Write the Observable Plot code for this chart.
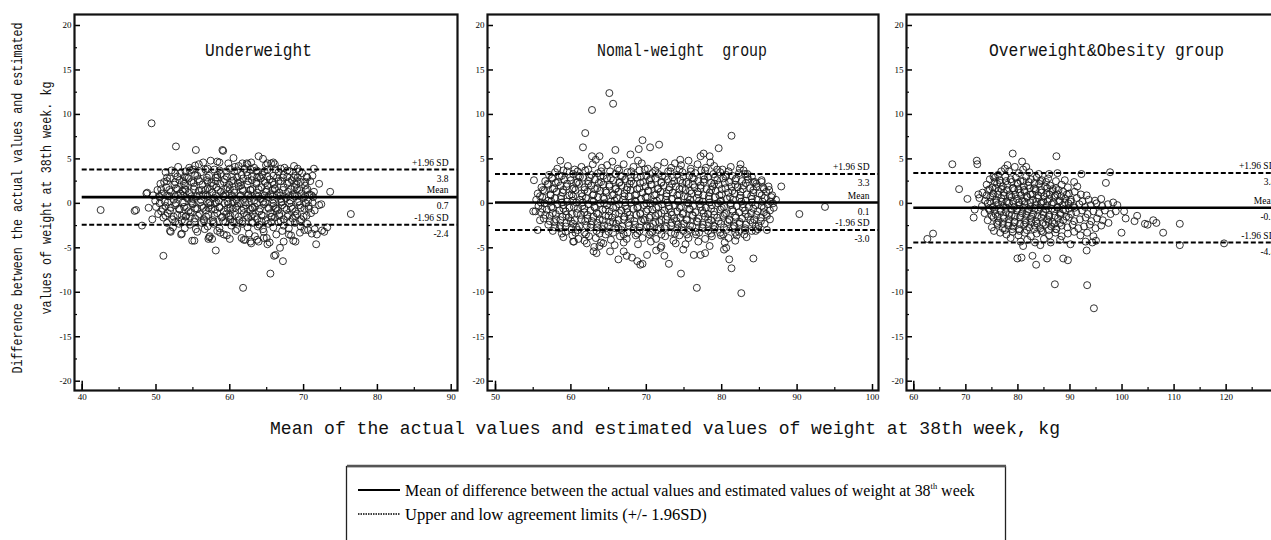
<!DOCTYPE html>
<html><head><meta charset="utf-8">
<script src="https://cdn.jsdelivr.net/npm/d3@7"></script>
<script src="https://cdn.jsdelivr.net/npm/@observablehq/plot@0.6"></script>
<style>
body{margin:0;background:#fff;}
#wrap{position:relative;width:1271px;height:540px;overflow:hidden;background:#fff;}
#wrap svg{position:absolute;top:0;}
</style></head><body><div id="wrap"></div>
<script>
// ---------- data ----------
const panelTitles = ["Underweight", "Nomal-weight  group", "Overweight&Obesity group"];
const yLabelLines = ["Difference between the actual values and estimated", "values of weight at 38th week. kg"];
const xTitle = "Mean of the actual values and estimated values of weight at 38th week, kg";
const legendLabels = ["Mean of difference between the actual values and estimated values of weight at 38", "th", " week", "Upper and low agreement limits (+/- 1.96SD)"];
const statNames = ["+1.96 SD", "Mean", "-1.96 SD"];

const xDomain1 = [40, 90], xDomain2 = [50, 100], xDomain3 = [60, 130];
const xMajor1 = [40, 50, 60, 70, 80, 90], xMinor1 = [45, 55, 65, 75, 85];
const xMajor2 = [50, 60, 70, 80, 90, 100], xMinor2 = [55, 65, 75, 85, 95];
const xMajor3 = [60, 70, 80, 90, 100, 110, 120, 130], xMinor3 = [65, 75, 85, 95, 105, 115, 125];
const yDomain = [-20, 20];
const yMajor = [-20, -15, -10, -5, 0, 5, 10, 15, 20];
const yMinor = [-17.5, -12.5, -7.5, -2.5, 2.5, 7.5, 12.5, 17.5];

const meanDiff = [0.7, 0.1, -0.5];
const upperLoA = [3.8, 3.3, 3.4];
const lowerLoA = [-2.4, -3.0, -4.4];

const underweightPts = [
[49.4,9.0],[52.7,6.4],[55.4,6.0],[59.0,6.0],[59.1,5.9],[42.5,-0.75],[47.1,-0.85],[47.3,-0.75],[48.1,-2.5],[49.0,-0.5],[48.7,1.1],[48.8,1.2],
[51.0,-5.9],[54.9,-4.2],[58.1,-5.3],[61.8,-9.5],[65.5,-7.9],[67.2,-6.5],[66.0,-5.9],[66.2,-5.8],[66.8,-5.0],[67.3,-4.3],[71.7,-4.6],[73.6,1.3],
[76.4,-1.2],[72.5,-3.05],[71.5,-2.9],[73.2,-2.7],[72.1,-0.2],[72.4,-0.1],[72.1,2.2],[71.4,3.9],[71.2,3.1],[68.7,4.2],[63.9,5.3],[64.5,5.0],
[65.9,4.6],[60.5,5.1],[57.4,4.8],[58.3,4.7],[58.6,4.6],[54.5,4.0],[55.3,4.25],[51.9,-3.1],[53.4,-3.5],[49.5,-1.8],[52.0,-3.2],[57.1,-4.0],
[57.3,-3.7],[59.2,-3.5],[61.9,-4.1],[62.8,-4.3],[63.7,-4.1],[64.6,-3.9],[65.1,-4.6],[68.0,-3.5],[68.6,-4.2],[70.1,-3.0],[71.1,-3.4],[71.8,-3.5],
[72.8,-3.2],[61.7,4.5],[62.3,4.5],[65.1,4.5],[51.3,3.5],[53.3,3.4],
[53.0,4.1],[55.8,4.4],[57.0,3.9],[59.8,4.5],[61.2,4.2],[62.4,4.4],[63.3,4.0],[64.9,4.3],[66.1,4.4],[67.4,4.0],[69.2,3.9],[56.4,4.6],[60.7,4.1],[62.9,4.6],[65.6,4.5],
[52.6,3.4],[53.9,3.0],[54.6,3.7],[55.3,3.2],[56.1,3.5],[57.2,3.1],[57.9,3.8],[58.8,3.3],[59.5,3.6],[60.3,3.0],[61.0,3.7],[61.6,3.2],[62.3,3.5],[63.0,3.0],
[63.8,3.6],[64.4,3.2],[65.1,3.8],[65.9,3.1],[66.6,3.5],[67.3,3.2],[68.1,3.6],[68.9,3.1],[69.8,3.4],[70.5,2.9],[58.3,3.2],[60.0,3.9],[62.8,3.8],[64.0,3.0],[66.9,3.9],[55.0,3.8],
[50.6,2.2],[51.1,2.4],[51.9,2.8],[52.5,2.1],[53.2,2.6],[53.8,2.2],[54.4,2.8],[55.1,2.3],[55.7,2.7],[56.3,2.1],[56.9,2.6],[57.5,2.3],[58.1,2.9],[58.7,2.2],
[59.3,2.7],[59.9,2.1],[60.5,2.6],[61.1,2.3],[61.8,2.8],[62.4,2.1],[63.0,2.6],[63.6,2.2],[64.2,2.8],[64.8,2.3],[65.4,2.7],[66.0,2.1],[66.6,2.5],[67.2,2.9],
[67.8,2.2],[68.4,2.6],[69.0,2.1],[69.6,2.4],[70.2,2.0],[70.9,2.5],[54.0,2.0],[57.7,2.0],[61.5,2.0],[65.1,2.0],[68.7,2.9],
[49.6,0.9],[50.2,1.5],[50.8,1.1],[51.4,1.8],[52.0,1.3],[52.7,1.7],[53.3,1.1],[53.9,1.6],[54.5,1.2],[55.2,1.9],[55.8,1.4],[56.4,1.0],[57.0,1.7],[57.6,1.2],
[58.2,1.8],[58.8,1.3],[59.4,1.0],[60.0,1.6],[60.6,1.2],[61.2,1.9],[61.8,1.4],[62.5,1.0],[63.1,1.6],[63.7,1.2],[64.3,1.8],[64.9,1.3],[65.5,1.0],[66.1,1.7],
[66.7,1.2],[67.3,1.8],[67.9,1.3],[68.5,1.0],[69.1,1.6],[69.7,1.1],[70.3,1.5],[70.8,1.0],[71.4,1.3],[56.7,1.5],[59.7,1.8],[62.8,1.5],[65.8,1.5],[68.8,1.8],[53.6,1.4],
[49.9,0.3],[50.5,0.7],[51.2,0.2],[51.8,0.8],[52.4,0.4],[53.0,0.9],[53.6,0.1],[54.2,0.6],[54.8,0.2],[55.5,0.8],[56.1,0.4],[56.7,0.9],[57.3,0.1],[57.9,0.6],
[58.5,0.3],[59.1,0.8],[59.7,0.2],[60.3,0.7],[60.9,0.4],[61.5,0.9],[62.1,0.1],[62.7,0.6],[63.3,0.3],[63.9,0.8],[64.5,0.2],[65.2,0.7],[65.8,0.4],[66.4,0.9],
[67.0,0.2],[67.6,0.6],[68.2,0.3],[68.8,0.8],[69.4,0.2],[70.0,0.6],[70.6,0.3],[71.3,0.7],[58.0,0.0],[61.1,0.0],[64.2,0.5],[66.9,0.5],[55.0,0.5],
[50.0,-0.4],[50.7,-0.9],[51.3,-0.3],[51.9,-0.8],[52.6,-0.2],[53.2,-0.7],[53.8,-0.4],[54.4,-0.9],[55.0,-0.1],[55.6,-0.6],[56.2,-0.3],[56.8,-0.8],[57.4,-0.2],
[58.0,-0.7],[58.6,-0.4],[59.2,-0.9],[59.8,-0.1],[60.4,-0.6],[61.0,-0.3],[61.6,-0.8],[62.2,-0.2],[62.8,-0.7],[63.4,-0.4],[64.0,-0.9],[64.6,-0.1],[65.3,-0.6],
[65.9,-0.3],[66.5,-0.8],[67.1,-0.2],[67.7,-0.7],[68.3,-0.4],[68.9,-0.9],[69.5,-0.2],[70.1,-0.6],[70.7,-0.3],[71.5,-0.8],[57.1,-0.5],[60.1,-0.5],[63.1,-0.5],[66.2,-0.5],
[50.3,-1.2],[51.0,-1.6],[51.6,-1.1],[52.2,-1.8],[52.9,-1.3],[53.5,-1.9],[54.1,-1.4],[54.7,-1.0],[55.3,-1.7],[55.9,-1.2],[56.5,-1.8],[57.1,-1.3],[57.7,-1.9],
[58.3,-1.1],[58.9,-1.6],[59.5,-1.2],[60.1,-1.8],[60.7,-1.3],[61.3,-1.9],[61.9,-1.1],[62.5,-1.6],[63.1,-1.2],[63.7,-1.8],[64.3,-1.3],[64.9,-1.9],[65.5,-1.1],
[66.1,-1.6],[66.7,-1.2],[67.3,-1.8],[67.9,-1.3],[68.5,-1.7],[69.1,-1.2],[69.7,-1.8],[70.4,-1.4],[71.0,-1.1],[54.0,-1.5],[59.9,-1.5],[62.9,-1.5],[65.7,-1.5],
[51.5,-2.2],[52.3,-2.7],[53.1,-2.3],[53.9,-2.8],[54.6,-2.4],[55.4,-2.9],[56.2,-2.2],[57.0,-2.6],[57.8,-2.3],[58.6,-2.8],[59.4,-2.1],[60.2,-2.5],[61.0,-2.9],
[61.7,-2.3],[62.4,-2.7],[63.1,-2.2],[63.8,-2.6],[64.5,-2.9],[65.2,-2.3],[65.9,-2.7],[66.6,-2.1],[67.3,-2.5],[68.0,-2.8],[68.8,-2.2],[69.6,-2.6],[70.5,-2.3],
[56.6,-2.9],[60.6,-2.2],[64.0,-2.4],
[53.5,-3.4],[55.6,-3.2],[57.2,-3.8],[57.6,-4.0],[58.7,-3.3],[59.6,-3.6],[60.8,-3.1],[61.6,-3.9],[62.1,-4.1],[62.6,-3.4],[63.4,-3.7],[63.9,-4.3],[64.6,-3.2],
[65.0,-3.9],[65.4,-4.4],[66.3,-3.5],[67.1,-3.1],[68.3,-3.6],[68.9,-4.3],[69.5,-3.3],[70.6,-3.0],[58.3,-3.1],[60.0,-4.0],[62.9,-4.5],[55.2,-4.2]
];
const underweightPtsB = [
[52.1,3.7],[54.0,3.6],[56.7,3.8],[58.6,3.7],[60.6,3.6],[62.0,3.9],[63.6,3.7],[64.7,3.6],[66.2,3.8],[67.8,3.7],[69.4,3.6],
[51.5,2.9],[52.9,3.0],[54.2,2.9],[55.6,3.1],[56.9,2.9],[58.3,2.9],[59.6,3.0],[61.0,2.9],[62.4,3.1],[63.7,2.9],[65.1,3.0],[66.4,2.9],[67.8,3.0],[69.2,2.9],[70.4,3.0],
[51.5,2.5],[52.6,2.4],[53.7,2.5],[54.8,2.4],[55.9,2.5],[57.0,2.4],[58.1,2.5],[59.2,2.4],[60.3,2.5],[61.4,2.4],[62.5,2.5],[63.6,2.4],[64.7,2.5],[65.8,2.4],[66.9,2.5],[68.0,2.4],[69.1,2.5],[70.2,2.4],
[50.7,1.6],[51.8,1.5],[52.9,1.6],[54.0,1.5],[55.1,1.6],[56.2,1.5],[57.3,1.6],[58.4,1.5],[59.5,1.6],[60.6,1.5],[61.7,1.6],[62.8,1.5],[63.9,1.6],[65.0,1.5],[66.1,1.6],[67.2,1.5],[68.3,1.6],[69.4,1.5],[70.5,1.6],
[50.4,0.8],[51.5,0.9],[52.6,0.8],[53.7,0.9],[54.8,0.8],[55.9,0.9],[57.0,0.8],[58.1,0.9],[59.2,0.8],[60.3,0.9],[61.4,0.8],[62.5,0.9],[63.6,0.8],[64.7,0.9],[65.8,0.8],[66.9,0.9],[68.0,0.8],[69.1,0.9],[70.2,0.8],[71.1,0.9],
[50.5,0.0],[51.6,0.1],[52.7,0.0],[53.8,0.1],[54.9,0.0],[56.0,0.1],[57.1,0.0],[58.2,0.1],[59.3,0.0],[60.4,0.1],[61.5,0.0],[62.6,0.1],[63.7,0.0],[64.8,0.1],[65.9,0.0],[67.0,0.1],[68.1,0.0],[69.2,0.1],[70.3,0.0],[71.2,0.1],
[50.9,-0.6],[52.0,-0.5],[53.1,-0.6],[54.2,-0.5],[55.3,-0.6],[56.4,-0.5],[57.5,-0.6],[58.6,-0.5],[59.7,-0.6],[60.8,-0.5],[61.9,-0.6],[63.0,-0.5],[64.1,-0.6],[65.2,-0.5],[66.3,-0.6],[67.4,-0.5],[68.5,-0.6],[69.6,-0.5],[70.7,-0.6],
[51.3,-1.4],[52.4,-1.5],[53.5,-1.4],[54.6,-1.5],[55.7,-1.4],[56.8,-1.5],[57.9,-1.4],[59.0,-1.5],[60.1,-1.4],[61.2,-1.5],[62.3,-1.4],[63.4,-1.5],[64.5,-1.4],[65.6,-1.5],[66.7,-1.4],[67.8,-1.5],[68.9,-1.4],[70.0,-1.5],
[52.6,-2.1],[53.9,-2.0],[55.2,-2.1],[56.5,-2.0],[57.8,-2.1],[59.1,-2.0],[60.4,-2.1],[61.7,-2.0],[63.0,-2.1],[64.3,-2.0],[65.6,-2.1],[66.9,-2.0],[68.2,-2.1],[69.5,-2.0]
];

const normalPts = [
[65.1,12.4],[65.6,11.2],[62.8,10.5],[61.9,7.9],[61.6,6.3],[58.6,4.8],[62.8,5.3],[63.8,5.3],[65.9,6.0],[69.5,7.1],[70.5,6.3],[71.7,6.6],[67.9,5.5],[69.0,6.1],
[79.6,6.2],[81.3,7.6],[82.5,4.4],[77.2,5.3],[78.4,5.3],[77.6,5.6],[74.5,4.9],[75.6,4.8],[87.9,1.9],[90.3,-1.2],[93.7,-0.4],[55.1,2.6],[55.0,-0.9],[55.3,-0.9],
[55.6,-3.0],[55.9,-1.9],[60.3,-4.3],[61.8,-4.2],[63.0,-5.4],[63.4,-5.6],[63.8,-4.8],[64.3,-4.5],[65.2,-5.4],[66.3,-6.3],[67.0,-5.4],[67.4,-5.9],[68.1,-6.1],
[68.8,-6.5],[69.2,-6.9],[69.5,-6.8],[70.1,-5.8],[71.3,-5.3],[71.9,-5.0],[72.4,-5.9],[73.0,-6.8],[74.6,-7.9],[76.7,-9.5],[74.9,-5.2],[76.3,-5.8],[77.2,-5.8],
[77.8,-5.6],[80.3,-5.2],[80.6,-5.0],[81.0,-6.3],[81.3,-7.3],[82.6,-10.1],[84.2,-6.2],[81.8,-4.2],[86.4,-1.8],[86.0,-3.0],[84.5,-3.1],[83.0,-3.5],[85.3,2.4],
[86.2,1.9],[84.2,2.4],[83.4,3.3],
[58.2,3.9],[59.6,4.2],[60.5,3.8],[61.4,4.1],[62.9,4.4],[64.1,4.0],[64.8,4.3],[66.2,3.9],[67.0,4.4],[68.3,4.1],[69.4,4.5],[70.2,3.9],[71.5,4.2],[72.4,4.6],
[73.3,4.0],[74.6,4.3],[75.9,3.9],[76.8,4.4],[77.9,4.0],[79.0,4.2],[80.1,3.8],[81.2,4.1],[82.4,3.9],[65.5,4.7],[68.9,4.8],[73.8,4.5],[78.5,4.6],[63.3,4.9],
[57.1,3.2],[57.9,3.5],[58.8,3.1],[59.5,3.6],[60.3,3.3],[61.2,3.0],[61.9,3.7],[62.7,3.2],[63.6,3.4],[64.3,3.1],[65.2,3.6],[65.9,3.3],[66.8,3.0],[67.5,3.5],
[68.4,3.2],[69.1,3.7],[70.0,3.1],[70.8,3.4],[71.6,3.3],[72.5,3.0],[73.2,3.6],[74.1,3.2],[74.8,3.5],[75.7,3.1],[76.5,3.4],[77.3,3.7],[78.2,3.0],[78.9,3.3],
[79.8,3.5],[80.6,3.2],[81.4,3.1],[82.3,3.4],[83.1,3.3],[84.0,3.0],
[56.6,2.5],[57.5,2.8],[58.3,2.4],[59.1,2.7],[60.0,2.6],[60.7,2.3],[61.6,2.9],[62.3,2.5],[63.2,2.7],[64.0,2.4],[64.8,2.8],[65.6,2.6],[66.4,2.3],[67.2,2.7],
[68.0,2.5],[68.8,2.9],[69.6,2.4],[70.4,2.6],[71.2,2.8],[72.0,2.3],[72.9,2.7],[73.7,2.5],[74.5,2.6],[75.3,2.4],[76.1,2.9],[76.9,2.5],[77.7,2.7],[78.6,2.3],
[79.4,2.6],[80.2,2.8],[81.0,2.4],[81.8,2.6],[82.7,2.5],[83.5,2.7],[84.4,2.4],[85.3,2.6],
[56.1,1.8],[57.0,2.1],[57.8,1.7],[58.6,2.0],[59.4,1.9],[60.2,1.6],[61.1,2.2],[61.8,1.8],[62.7,2.0],[63.5,1.7],[64.3,2.1],[65.1,1.9],[65.9,1.6],[66.7,2.0],
[67.5,1.8],[68.3,2.2],[69.1,1.7],[69.9,1.9],[70.7,2.1],[71.5,1.6],[72.3,2.0],[73.1,1.8],[73.9,1.9],[74.8,1.7],[75.6,2.2],[76.4,1.8],[77.2,2.0],[78.0,1.6],
[78.8,1.9],[79.6,2.1],[80.5,1.7],[81.3,1.9],[82.1,1.8],[82.9,2.0],[83.8,1.7],[84.6,1.9],[85.5,1.8],[86.3,1.5],
[55.6,1.1],[56.5,1.4],[57.3,1.0],[58.1,1.3],[58.9,1.2],[59.8,0.9],[60.6,1.5],[61.4,1.1],[62.2,1.3],[63.0,1.0],[63.9,1.4],[64.7,1.2],[65.5,0.9],[66.3,1.3],
[67.1,1.1],[67.9,1.5],[68.7,1.0],[69.5,1.2],[70.3,1.4],[71.1,0.9],[71.9,1.3],[72.7,1.1],[73.5,1.2],[74.4,1.0],[75.2,1.5],[76.0,1.1],[76.8,1.3],[77.6,0.9],
[78.4,1.2],[79.2,1.4],[80.0,1.0],[80.9,1.2],[81.7,1.1],[82.5,1.3],[83.3,1.0],[84.2,1.2],[85.0,1.1],[85.9,1.3],[86.7,0.9],
[55.4,0.4],[56.2,0.7],[57.0,0.3],[57.9,0.6],[58.7,0.5],[59.5,0.2],[60.3,0.8],[61.2,0.4],[62.0,0.6],[62.8,0.3],[63.6,0.7],[64.4,0.5],[65.3,0.2],[66.1,0.6],
[66.9,0.4],[67.7,0.8],[68.5,0.3],[69.3,0.5],[70.1,0.7],[71.0,0.2],[71.8,0.6],[72.6,0.4],[73.4,0.5],[74.2,0.3],[75.0,0.8],[75.8,0.4],[76.7,0.6],[77.5,0.2],
[78.3,0.5],[79.1,0.7],[79.9,0.3],[80.7,0.5],[81.5,0.4],[82.4,0.6],[83.2,0.3],[84.0,0.5],[84.8,0.4],[85.7,0.6],[86.5,0.2],[87.2,0.4],
[55.7,-0.3],[56.5,0.0],[57.4,-0.4],[58.2,-0.1],[59.0,-0.2],[59.8,-0.5],[60.7,0.1],[61.5,-0.3],[62.3,-0.1],[63.1,-0.4],[63.9,0.0],[64.8,-0.2],[65.6,-0.5],
[66.4,-0.1],[67.2,-0.3],[68.0,0.1],[68.9,-0.4],[69.7,-0.2],[70.5,0.0],[71.3,-0.5],[72.1,-0.1],[73.0,-0.3],[73.8,-0.2],[74.6,-0.4],[75.4,0.1],[76.2,-0.3],
[77.1,-0.1],[77.9,-0.5],[78.7,-0.2],[79.5,0.0],[80.3,-0.4],[81.2,-0.2],[82.0,-0.3],[82.8,-0.1],[83.6,-0.4],[84.5,-0.2],[85.3,-0.3],[86.1,-0.1],[86.9,-0.5],
[56.0,-1.0],[56.8,-0.7],[57.6,-1.1],[58.5,-0.8],[59.3,-0.9],[60.1,-1.2],[60.9,-0.6],[61.8,-1.0],[62.6,-0.8],[63.4,-1.1],[64.2,-0.7],[65.1,-0.9],[65.9,-1.2],
[66.7,-0.8],[67.5,-1.0],[68.3,-0.6],[69.2,-1.1],[70.0,-0.9],[70.8,-0.7],[71.6,-1.2],[72.4,-0.8],[73.3,-1.0],[74.1,-0.9],[74.9,-1.1],[75.7,-0.6],[76.5,-1.0],
[77.4,-0.8],[78.2,-1.2],[79.0,-0.9],[79.8,-0.7],[80.6,-1.1],[81.5,-0.9],[82.3,-1.0],[83.1,-0.8],[83.9,-1.1],[84.8,-0.9],[85.6,-1.0],[86.4,-0.8],
[56.4,-1.7],[57.2,-1.4],[58.0,-1.8],[58.9,-1.5],[59.7,-1.6],[60.5,-1.9],[61.3,-1.3],[62.2,-1.7],[63.0,-1.5],[63.8,-1.8],[64.6,-1.4],[65.5,-1.6],[66.3,-1.9],
[67.1,-1.5],[67.9,-1.7],[68.7,-1.3],[69.6,-1.8],[70.4,-1.6],[71.2,-1.4],[72.0,-1.9],[72.8,-1.5],[73.7,-1.7],[74.5,-1.6],[75.3,-1.8],[76.1,-1.3],[76.9,-1.7],
[77.8,-1.5],[78.6,-1.9],[79.4,-1.6],[80.2,-1.4],[81.0,-1.8],[81.9,-1.6],[82.7,-1.7],[83.5,-1.5],[84.3,-1.8],[85.2,-1.6],[86.0,-1.4],
[57.0,-2.4],[57.8,-2.1],[58.6,-2.5],[59.4,-2.2],[60.3,-2.3],[61.1,-2.6],[61.9,-2.0],[62.7,-2.4],[63.5,-2.2],[64.4,-2.5],[65.2,-2.1],[66.0,-2.3],[66.8,-2.6],
[67.6,-2.2],[68.5,-2.4],[69.3,-2.0],[70.1,-2.5],[70.9,-2.3],[71.7,-2.1],[72.6,-2.6],[73.4,-2.2],[74.2,-2.4],[75.0,-2.3],[75.8,-2.5],[76.7,-2.0],[77.5,-2.4],
[78.3,-2.2],[79.1,-2.6],[79.9,-2.3],[80.8,-2.1],[81.6,-2.5],[82.4,-2.3],[83.2,-2.4],[84.1,-2.2],[84.9,-2.5],[85.7,-2.3],
[57.6,-3.1],[58.5,-2.8],[59.3,-3.2],[60.1,-2.9],[60.9,-3.0],[61.8,-3.3],[62.6,-2.7],[63.4,-3.1],[64.2,-2.9],[65.0,-3.2],[65.9,-2.8],[66.7,-3.0],[67.5,-3.3],
[68.3,-2.9],[69.1,-3.1],[70.0,-2.7],[70.8,-3.2],[71.6,-3.0],[72.4,-2.8],[73.3,-3.3],[74.1,-2.9],[74.9,-3.1],[75.7,-3.0],[76.5,-3.2],[77.4,-2.7],[78.2,-3.1],
[79.0,-2.9],[79.8,-3.3],[80.6,-3.0],[81.5,-2.8],[82.3,-3.2],[83.1,-3.0],[84.0,-3.1],[84.8,-2.9],
[59.0,-3.8],[60.2,-3.6],[61.0,-4.0],[62.4,-3.7],[63.3,-3.9],[64.6,-3.5],[65.3,-4.1],[66.5,-3.7],[67.4,-4.0],[68.6,-3.6],[69.5,-3.9],[70.4,-3.5],[71.3,-4.0],
[72.5,-3.7],[73.6,-4.2],[74.4,-3.6],[75.6,-3.9],[76.6,-3.5],[77.8,-4.0],[78.7,-3.7],[79.9,-3.6],[80.9,-3.9],[82.0,-3.6],[83.3,-3.8],
[60.4,-4.3],[62.1,-4.5],[64.0,-4.4],[65.8,-4.7],[67.0,-4.4],[68.9,-4.6],[70.6,-4.3],[72.0,-4.8],[73.9,-4.5],[75.2,-4.6],[76.9,-4.3],[78.4,-4.8],[80.4,-4.4],[63.1,-4.9]
];
const normalPtsB = [
[59.0,3.7],[60.9,3.6],[62.3,3.8],[64.0,3.6],[66.4,3.7],[68.0,3.6],[69.8,3.8],[71.2,3.7],[72.9,3.6],[74.4,3.8],[75.9,3.6],[77.8,3.7],[79.4,3.8],[80.9,3.6],[82.9,3.7],
[57.5,2.9],[58.5,3.0],[59.9,2.9],[61.0,3.1],[62.5,2.9],[63.9,3.0],[65.3,2.8],[66.6,3.1],[67.9,2.9],[69.3,3.0],[70.6,2.8],[72.1,3.1],[73.5,2.9],[74.9,3.0],
[76.3,2.8],[77.6,3.1],[79.1,2.9],[80.5,3.0],[81.9,2.8],[83.4,3.0],
[56.9,2.2],[58.0,2.3],[59.5,2.2],[60.9,2.4],[62.3,2.2],[63.7,2.3],[65.1,2.1],[66.5,2.4],[67.8,2.2],[69.2,2.3],[70.6,2.1],[72.0,2.4],[73.4,2.2],[74.8,2.3],
[76.2,2.1],[77.6,2.4],[79.0,2.2],[80.4,2.3],[81.8,2.1],[83.2,2.3],[84.6,2.2],
[56.3,1.5],[57.6,1.6],[59.0,1.5],[60.4,1.7],[61.8,1.5],[63.2,1.6],[64.6,1.4],[66.0,1.7],[67.4,1.5],[68.8,1.6],[70.2,1.4],[71.6,1.7],[73.0,1.5],[74.4,1.6],
[75.8,1.4],[77.2,1.7],[78.6,1.5],[80.0,1.6],[81.4,1.4],[82.8,1.6],[84.2,1.5],[85.6,1.6],
[55.9,0.8],[57.3,0.9],[58.7,0.8],[60.1,1.0],[61.5,0.8],[62.9,0.9],[64.3,0.7],[65.7,1.0],[67.1,0.8],[68.5,0.9],[69.9,0.7],[71.3,1.0],[72.7,0.8],[74.1,0.9],
[75.5,0.7],[76.9,1.0],[78.3,0.8],[79.7,0.9],[81.1,0.7],[82.5,0.9],[83.9,0.8],[85.3,0.9],[86.6,0.7],
[56.0,0.1],[57.4,0.2],[58.8,0.1],[60.2,0.3],[61.6,0.1],[63.0,0.2],[64.4,0.0],[65.8,0.3],[67.2,0.1],[68.6,0.2],[70.0,0.0],[71.4,0.3],[72.8,0.1],[74.2,0.2],
[75.6,0.0],[77.0,0.3],[78.4,0.1],[79.8,0.2],[81.2,0.0],[82.6,0.2],[84.0,0.1],[85.4,0.2],[86.8,0.0],
[56.2,-0.6],[57.6,-0.5],[59.0,-0.6],[60.4,-0.4],[61.8,-0.6],[63.2,-0.5],[64.6,-0.7],[66.0,-0.4],[67.4,-0.6],[68.8,-0.5],[70.2,-0.7],[71.6,-0.4],[73.0,-0.6],
[74.4,-0.5],[75.8,-0.7],[77.2,-0.4],[78.6,-0.6],[80.0,-0.5],[81.4,-0.7],[82.8,-0.5],[84.2,-0.6],[85.6,-0.5],
[56.6,-1.3],[58.0,-1.2],[59.4,-1.3],[60.8,-1.1],[62.2,-1.3],[63.6,-1.2],[65.0,-1.4],[66.4,-1.1],[67.8,-1.3],[69.2,-1.2],[70.6,-1.4],[72.0,-1.1],[73.4,-1.3],
[74.8,-1.2],[76.2,-1.4],[77.6,-1.1],[79.0,-1.3],[80.4,-1.2],[81.8,-1.4],[83.2,-1.2],[84.6,-1.3],[85.9,-1.2],
[57.2,-2.0],[58.6,-1.9],[60.0,-2.0],[61.4,-1.8],[62.8,-2.0],[64.2,-1.9],[65.6,-2.1],[67.0,-1.8],[68.4,-2.0],[69.8,-1.9],[71.2,-2.1],[72.6,-1.8],[74.0,-2.0],
[75.4,-1.9],[76.8,-2.1],[78.2,-1.8],[79.6,-2.0],[81.0,-1.9],[82.4,-2.1],[83.8,-1.9],[85.2,-2.0],
[57.9,-2.7],[59.3,-2.6],[60.7,-2.7],[62.1,-2.5],[63.5,-2.7],[64.9,-2.6],[66.3,-2.8],[67.7,-2.5],[69.1,-2.7],[70.5,-2.6],[71.9,-2.8],[73.3,-2.5],[74.7,-2.7],
[76.1,-2.6],[77.5,-2.8],[78.9,-2.5],[80.3,-2.7],[81.7,-2.6],[83.1,-2.8],[84.5,-2.6],
[58.8,-3.4],[60.6,-3.3],[62.0,-3.5],[63.8,-3.4],[65.6,-3.3],[67.0,-3.5],[68.8,-3.4],[70.6,-3.3],[72.0,-3.5],[73.8,-3.4],[75.4,-3.5],[77.0,-3.3],[78.6,-3.4],
[80.2,-3.5],[81.8,-3.3]
];

const overweightPts = [
[62.6,-4.0],[63.7,-3.4],[67.4,4.4],[68.7,1.6],[70.3,0.5],[72.1,4.8],[72.2,4.4],[71.5,-1.6],[71.7,-0.7],[72.4,1.0],[75.4,-3.1],[79.0,5.6],[80.8,4.7],
[81.6,4.1],[87.4,5.3],[92.2,3.3],[96.9,2.3],[97.7,3.5],[79.9,-6.2],[80.7,-6.1],[82.8,-5.9],[83.5,-6.9],[85.6,-6.2],[88.7,-6.2],[89.6,-6.4],[87.1,-9.1],
[93.3,-9.2],[94.6,-11.8],[90.1,-4.6],[93.2,-5.3],[95.0,-4.2],[99.9,-3.3],[100.4,-0.9],[100.7,-1.7],[102.4,-2.0],[102.9,-1.4],[104.4,-2.3],[104.9,-2.4],
[106.0,-1.9],[106.6,-2.2],[107.9,-3.3],[111.1,-2.3],[111.1,-4.7],[119.6,-4.5],[99.1,-0.2],[98.3,0.1],
[76.2,3.2],[76.8,3.6],[77.5,3.9],[78.3,3.6],[78.0,4.3],[79.4,4.1],[80.2,3.4],[81.0,3.8],[82.2,3.5],[84.0,3.3],[86.0,3.3],[87.6,3.4],[75.3,3.0],
[74.6,2.7],[75.6,2.9],[76.5,2.6],[77.6,3.0],[78.6,2.7],[79.6,2.9],[80.5,2.5],[81.6,3.0],[82.5,2.7],[83.6,2.9],[84.6,2.6],[85.8,2.8],[87.3,2.5],[89.0,2.6],
[74.0,2.1],[75.1,1.8],[76.0,2.2],[77.1,1.9],[78.0,2.1],[79.1,1.7],[80.0,2.2],[81.1,1.9],[82.0,2.0],[83.1,1.7],[84.1,2.2],[85.2,1.9],[86.2,2.0],[87.3,1.7],
[88.4,2.1],[89.6,1.8],[90.8,2.4],[91.4,1.9],
[73.2,1.2],[74.3,1.5],[75.3,1.1],[76.3,1.4],[77.3,1.2],[78.4,1.0],[79.3,1.5],[80.4,1.2],[81.3,1.3],[82.4,1.0],[83.4,1.4],[84.5,1.2],[85.5,1.1],[86.6,1.4],
[87.6,1.0],[88.7,1.3],[89.8,1.1],[90.9,1.3],[92.1,1.0],[93.2,0.9],
[72.6,0.6],[73.7,0.3],[74.7,0.7],[75.8,0.4],[76.8,0.6],[77.8,0.2],[78.8,0.7],[79.8,0.5],[80.8,0.3],[81.8,0.7],[82.9,0.4],[83.9,0.6],[84.9,0.2],[86.0,0.5],
[87.0,0.7],[88.1,0.3],[89.1,0.5],[90.2,0.4],[91.3,0.6],[92.4,0.2],[93.6,0.4],[94.8,0.3],[96.0,0.5],
[73.1,-0.3],[74.2,0.0],[75.2,-0.4],[76.2,-0.1],[77.2,-0.3],[78.3,0.0],[79.3,-0.4],[80.3,-0.2],[81.3,-0.1],[82.4,-0.4],[83.4,-0.2],[84.4,0.0],[85.5,-0.3],
[86.5,-0.1],[87.6,-0.4],[88.6,-0.2],[89.7,0.0],[90.7,-0.3],[91.8,-0.1],[92.9,-0.4],[94.0,-0.2],[95.1,0.0],[96.2,-0.3],[97.3,-0.1],
[73.6,-1.1],[74.6,-0.8],[75.7,-1.2],[76.7,-0.9],[77.7,-1.0],[78.8,-1.3],[79.8,-0.8],[80.8,-1.1],[81.8,-0.9],[82.9,-1.2],[83.9,-0.8],[84.9,-1.0],[86.0,-1.3],
[87.0,-0.9],[88.1,-1.1],[89.1,-0.8],[90.2,-1.2],[91.2,-1.0],[92.3,-0.8],[93.4,-1.2],[94.5,-0.9],[95.6,-1.1],[96.7,-0.8],[97.8,-1.2],[98.8,-0.9],
[74.2,-1.9],[75.3,-1.6],[76.3,-2.0],[77.3,-1.7],[78.3,-1.8],[79.4,-2.1],[80.4,-1.6],[81.4,-1.9],[82.4,-1.7],[83.5,-2.0],[84.5,-1.6],[85.6,-1.8],[86.6,-2.1],
[87.7,-1.7],[88.7,-1.9],[89.8,-1.6],[90.8,-2.0],[91.9,-1.8],[93.0,-1.6],[94.1,-2.0],[95.2,-1.7],[96.3,-1.9],[97.4,-2.2],
[75.0,-2.7],[76.1,-2.4],[77.1,-2.8],[78.1,-2.5],[79.1,-2.6],[80.2,-2.9],[81.2,-2.4],[82.2,-2.7],[83.2,-2.5],[84.3,-2.8],[85.3,-2.4],[86.4,-2.6],[87.4,-2.9],
[88.4,-2.5],[89.5,-2.7],[90.5,-2.4],[91.6,-2.8],[92.7,-2.6],[93.8,-2.4],[94.9,-2.8],[96.0,-2.5],
[76.6,-3.3],[77.8,-3.5],[79.0,-3.2],[80.1,-3.6],[81.3,-3.3],[82.5,-3.7],[83.6,-3.4],[84.8,-3.2],[86.0,-3.6],[87.2,-3.3],[88.4,-3.7],[89.6,-3.4],[90.8,-3.2],
[92.0,-3.6],[93.3,-3.3],[94.5,-3.7],
[78.6,-3.9],[80.5,-4.3],[81.8,-4.1],[83.3,-4.4],[85.0,-4.0],[86.3,-4.4],[88.1,-4.1],[93.0,-4.3],[94.3,-4.4],[84.3,-4.7],[81.0,-4.8]
];
const overweightPtsB = [
[75.5,2.4],[76.6,2.3],[77.7,2.5],[78.8,2.4],[79.9,2.3],[81.0,2.5],[82.1,2.4],[83.2,2.3],[84.3,2.5],[85.4,2.4],
[74.6,1.6],[75.7,1.7],[76.8,1.6],[77.9,1.5],[79.0,1.7],[80.1,1.6],[81.2,1.5],[82.3,1.7],[83.4,1.6],[84.5,1.5],[85.6,1.7],[86.7,1.6],[87.8,1.5],
[74.0,0.9],[75.1,0.8],[76.2,1.0],[77.3,0.9],[78.4,0.8],[79.5,1.0],[80.6,0.9],[81.7,0.8],[82.8,1.0],[83.9,0.9],[85.0,0.8],[86.1,1.0],[87.2,0.9],[88.3,0.8],[89.4,1.0],
[74.7,0.2],[75.8,0.1],[76.9,0.2],[78.0,0.1],[79.1,0.2],[80.2,0.1],[81.3,0.2],[82.4,0.1],[83.5,0.2],[84.6,0.1],[85.7,0.2],[86.8,0.1],[87.9,0.2],[89.0,0.1],[90.1,0.2],
[74.4,-0.6],[75.5,-0.7],[76.6,-0.6],[77.7,-0.5],[78.8,-0.7],[79.9,-0.6],[81.0,-0.5],[82.1,-0.7],[83.2,-0.6],[84.3,-0.5],[85.4,-0.7],[86.5,-0.6],[87.6,-0.5],[88.7,-0.7],[89.8,-0.6],[90.9,-0.5],
[75.0,-1.4],[76.1,-1.5],[77.2,-1.4],[78.3,-1.3],[79.4,-1.5],[80.5,-1.4],[81.6,-1.3],[82.7,-1.5],[83.8,-1.4],[84.9,-1.3],[86.0,-1.5],[87.1,-1.4],[88.2,-1.3],[89.3,-1.5],
[76.0,-2.2],[77.1,-2.3],[78.2,-2.2],[79.3,-2.1],[80.4,-2.3],[81.5,-2.2],[82.6,-2.1],[83.7,-2.3],[84.8,-2.2],[85.9,-2.1],[87.0,-2.3],[88.1,-2.2],
[77.5,-3.0],[78.9,-2.9],[80.3,-3.1],[81.7,-3.0],[83.1,-2.9],[84.5,-3.1],[85.9,-3.0],[87.3,-2.9]
];

// ---------- layout ----------
const H = 410, MT = 14, MB = 20, ML = 34, MR = 8;
const panels = [
  {pts: underweightPts.concat(underweightPtsB), xDomain: xDomain1, xMajor: xMajor1, xMinor: xMinor1, left: 40, width: 425, insetL: 7.7, insetR: 6.3},
  {pts: normalPts.concat(normalPtsB), xDomain: xDomain2, xMajor: xMajor2, xMinor: xMinor2, left: 453, width: 433, insetL: 8, insetR: 6},
  {pts: overweightPts.concat(overweightPtsB), xDomain: xDomain3, xMajor: xMajor3, xMinor: xMinor3, left: 872, width: 420, insetL: 7.3, insetR: 6.3}
];
const wrap = document.getElementById("wrap");

panels.forEach((p, i) => {
  const fw = p.width - ML - MR, fh = H - MT - MB;
  const mean = meanDiff[i], up = upperLoA[i], lo = lowerLoA[i];
  const above = [{y: up, t: statNames[0]}, {y: mean, t: statNames[1]}, {y: lo, t: statNames[2]}];
  const below = [{y: up, t: up.toFixed(1)}, {y: mean, t: mean.toFixed(1)}, {y: lo, t: lo.toFixed(1)}];
  const svg = Plot.plot({
    width: p.width, height: H, marginTop: MT, marginBottom: MB, marginLeft: ML, marginRight: MR,
    x: {domain: p.xDomain, insetLeft: p.insetL, insetRight: p.insetR, axis: null},
    y: {domain: yDomain, insetTop: 11, insetBottom: 9.3, axis: null},
    style: {background: "transparent", fontFamily: "'Liberation Serif', serif", color: "#000"},
    marks: [
      Plot.dot(p.pts, {x: d => d[0], y: d => d[1], r: 3.5, stroke: "#1c1c1c", strokeWidth: 0.9, fill: "none"}),
      Plot.ruleY([mean], {stroke: "#000", strokeWidth: 2.6, insetLeft: p.insetL}),
      Plot.ruleY([up, lo], {stroke: "#000", strokeWidth: 2, strokeDasharray: "5,2.5", insetLeft: p.insetL}),
      Plot.text(above, {y: "y", text: "t", frameAnchor: "right", textAnchor: "end", dx: -9, dy: -7, fontSize: 9.5, fill: "#000"}),
      Plot.text(below, {y: "y", text: "t", frameAnchor: "right", textAnchor: "end", dx: -9, dy: 9, fontSize: 9.5, fill: "#000"}),
      Plot.ruleY(yMajor, {y: d => d, insetRight: fw - 6, stroke: "#000", strokeWidth: 1.5}),
      Plot.ruleY(yMinor, {y: d => d, insetRight: fw - 3, stroke: "#000", strokeWidth: 1.2}),
      Plot.ruleX(p.xMajor, {x: d => d, insetTop: fh - 6, stroke: "#000", strokeWidth: 1.5}),
      Plot.ruleX(p.xMinor, {x: d => d, insetTop: fh - 3, stroke: "#000", strokeWidth: 1.2}),
      Plot.ruleX([p.xDomain[0]], {x: d => d, insetTop: fh - 9.3, stroke: "#000", strokeWidth: 1.5}),
      Plot.text(yMajor, {y: d => d, text: d => String(d), frameAnchor: "left", textAnchor: "end", dx: -3, fontSize: 9, fill: "#000"}),
      Plot.text(p.xMajor, {x: d => d, text: d => String(d), frameAnchor: "bottom", dy: 9, fontSize: 9, fill: "#000"}),
      Plot.frame({stroke: "#111", strokeWidth: 2.2})
    ]
  });
  svg.style.left = p.left + "px";
  svg.style.overflow = "visible";
  wrap.appendChild(svg);
});

// ---------- overlay: titles, axis labels, legend ----------
const ov = d3.select(wrap).append("svg").attr("width", 1271).attr("height", 540).style("left", "0px").style("pointer-events", "none");
const mono = "'Liberation Mono', 'DejaVu Sans Mono', monospace";
const serif = "'Liberation Serif', 'Times New Roman', serif";

const titleSpecs = [{cx: 258.5, len: 107}, {cx: 682, len: 170}, {cx: 1106.5, len: 235}];
panelTitles.forEach((t, i) => {
  ov.append("text").attr("x", titleSpecs[i].cx).attr("y", 56).attr("text-anchor", "middle")
    .attr("font-family", mono).attr("font-size", 19).attr("fill", "#111")
    .attr("textLength", titleSpecs[i].len).attr("lengthAdjust", "spacingAndGlyphs")
    .style("white-space", "pre").text(t);
});

const yl = [{cx: 18, len: 351}, {cx: 47, len: 233}];
yLabelLines.forEach((t, i) => {
  ov.append("text").attr("transform", `translate(${yl[i].cx},198) rotate(-90)`)
    .attr("text-anchor", "middle").attr("dominant-baseline", "central")
    .attr("font-family", mono).attr("font-size", 15).attr("fill", "#111")
    .attr("textLength", yl[i].len).attr("lengthAdjust", "spacingAndGlyphs").text(t);
});

ov.append("text").attr("x", 665).attr("y", 434).attr("text-anchor", "middle")
  .attr("font-family", mono).attr("font-size", 19).attr("fill", "#111")
  .attr("textLength", 790).attr("lengthAdjust", "spacingAndGlyphs").text(xTitle);

// legend
ov.append("rect").attr("x", 346.5).attr("y", 466.5).attr("width", 659).attr("height", 120)
  .attr("fill", "#fff").attr("stroke", "#222").attr("stroke-width", 1.3);
ov.append("line").attr("x1", 347).attr("x2", 1006).attr("y1", 466).attr("y2", 466).attr("stroke", "#555").attr("stroke-width", 2.5);
ov.append("line").attr("x1", 358).attr("x2", 400).attr("y1", 490).attr("y2", 490).attr("stroke", "#000").attr("stroke-width", 2);
ov.append("line").attr("x1", 358).attr("x2", 400).attr("y1", 514).attr("y2", 514).attr("stroke", "#000").attr("stroke-width", 1.5).attr("stroke-dasharray", "1.5,1");

function condensedText(x, y, targetWidth, build) {
  const g = ov.append("g");
  const t = g.append("text").attr("font-family", serif).attr("font-size", 17).attr("fill", "#000").style("white-space", "pre");
  build(t);
  const w = t.node().getComputedTextLength();
  g.attr("transform", `translate(${x},${y}) scale(${targetWidth / w},1)`);
}
condensedText(405, 496, 570, t => {
  t.append("tspan").text(legendLabels[0]);
  t.append("tspan").attr("dy", -7).attr("font-size", 9).text(legendLabels[1]);
  t.append("tspan").attr("dy", 7).text(legendLabels[2]);
});
condensedText(405, 520, 302, t => t.text(legendLabels[3]));
</script></body></html>
